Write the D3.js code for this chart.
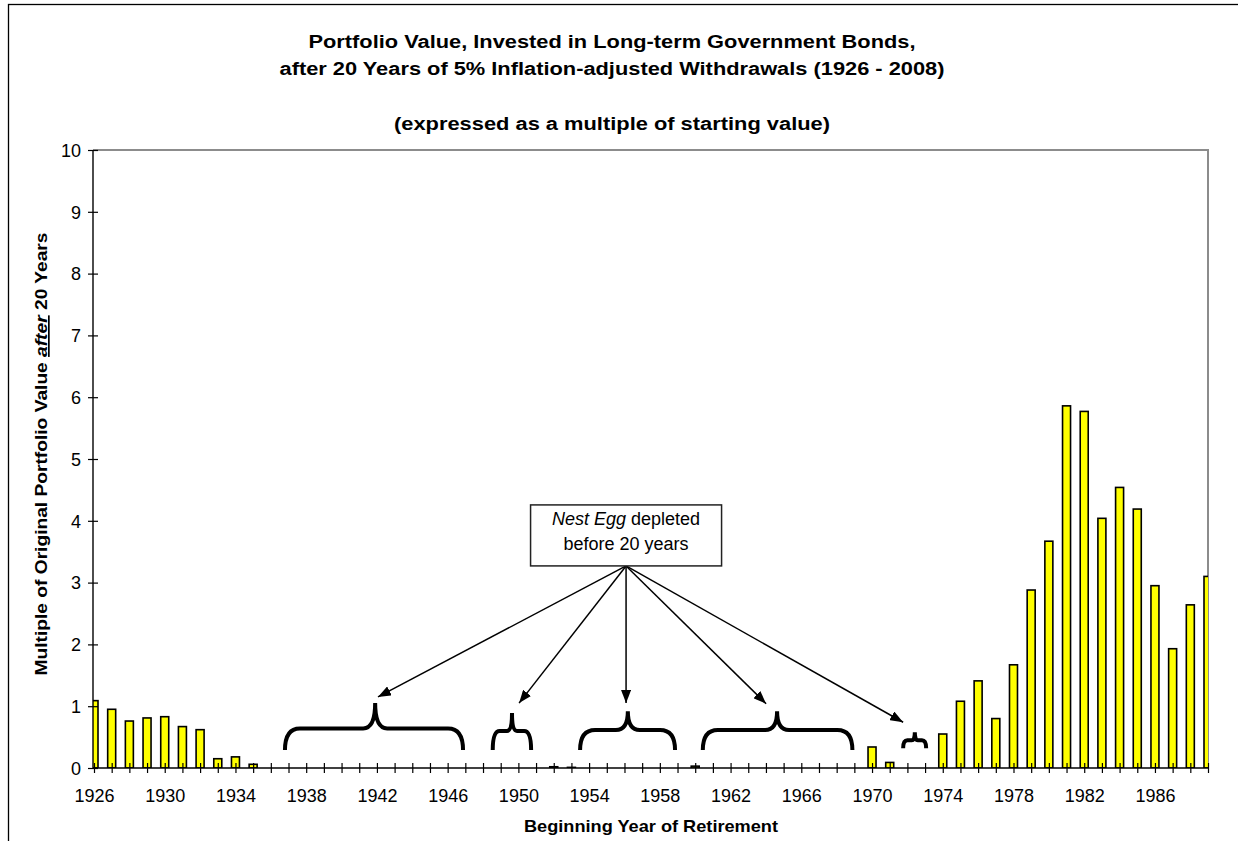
<!DOCTYPE html>
<html>
<head>
<meta charset="utf-8">
<script src="https://cdn.jsdelivr.net/npm/d3@7"></script>
<style>
body { margin: 0; background: #fff; }
text { font-family: Arial, "Liberation Sans", sans-serif; fill: #000; }
</style>
</head>
<body>
<svg id="chart" width="1238" height="841"></svg>
<script>
// beginning year of retirement (categories)
var years = d3.range(1926, 1990);

// portfolio value after 20 years, as a multiple of starting value
var values = [
	1.09, 0.95, 0.76, 0.81, 0.83, 0.67, 0.62, 0.15, 0.18, 0.06,   // 1926-1935
	0, 0, 0, 0, 0, 0, 0, 0, 0, 0, 0, 0, 0, 0, 0, 0,               // 1936-1951
	0.02, 0.01,                                                   // 1952-1953
	0, 0, 0, 0, 0, 0,                                             // 1954-1959
	0.03,                                                         // 1960
	0, 0, 0, 0, 0, 0, 0, 0, 0,                                    // 1961-1969
	0.34, 0.09, 0, 0, 0.55, 1.08, 1.41, 0.80, 1.67, 2.88,         // 1970-1979
	3.67, 5.86, 5.77, 4.04, 4.54, 4.19, 2.95, 1.93, 2.64, 3.10    // 1980-1989
];

var label_years = [1926, 1930, 1934, 1938, 1942, 1946, 1950, 1954, 1958, 1962, 1966, 1970, 1974, 1978, 1982, 1986];
var y_ticks = [0, 1, 2, 3, 4, 5, 6, 7, 8, 9, 10];

var title_lines = [
	"Portfolio Value, Invested in Long-term Government Bonds,",
	"after 20 Years of 5% Inflation-adjusted Withdrawals (1926 - 2008)",
	"(expressed as a multiple of starting value)"
];

// braces under the "depleted" periods (year / multiple units)
var brace_start = [1936.8, 1948.55, 1953.49, 1960.43, 1971.76];
var brace_end   = [1946.87, 1950.72, 1958.86, 1968.89, 1973.06];
var brace_tip   = [1941.9, 1949.64, 1956.19, 1964.63, 1972.42];
var brace_top   = [1.05, 0.89, 0.92, 0.92, 0.58];
var brace_mid   = [0.64, 0.60, 0.615, 0.615, 0.45];
var brace_foot  = [0.29, 0.29, 0.29, 0.29, 0.32];

// callout arrows
var callout_year = 1956.09, callout_value = 3.27;
var arrow_years  = [1942.06, 1950.04, 1956.09, 1964.01, 1971.76];
var arrow_values = [1.15, 1.05, 1.05, 1.04, 0.74];

function draw_chart(){
	var svg = d3.select("#chart");
	var p_left = 93, p_right = 1208, p_top = 150, p_bottom = 768;

	var x = d3.scaleLinear().domain([1926, 1989]).range([94, 1208]);
	var y = d3.scaleLinear().domain([0, 10]).range([p_bottom, p_top]);

	svg.append("rect").attr("width", 1238).attr("height", 841).attr("fill", "#fff");

	// outer chart frame (right/bottom edges run off the picture)
	svg.append("rect")
		.attr("x", 8.5).attr("y", 4.5)
		.attr("width", 1400).attr("height", 1000)
		.attr("fill", "none").attr("stroke", "#000").attr("stroke-width", 1.3);

	// title
	var title_y = [48, 75, 130];
	var title_len = [607, 665, 436];
	title_lines.forEach(function(t, i){
		svg.append("text")
			.attr("x", 612).attr("y", title_y[i])
			.attr("text-anchor", "middle")
			.attr("font-size", "18px").attr("font-weight", "bold")
			.attr("textLength", title_len[i]).attr("lengthAdjust", "spacingAndGlyphs")
			.text(t);
	});

	// plot area border (grey top and right)
	svg.append("path")
		.attr("d", "M" + p_left + "," + p_top + "H" + p_right + "V" + p_bottom)
		.attr("fill", "none").attr("stroke", "#8c8c8c").attr("stroke-width", 2);

	var defs = svg.append("defs");
	defs.append("clipPath").attr("id", "plotclip")
		.append("rect").attr("x", p_left).attr("y", p_top - 5)
		.attr("width", p_right - p_left).attr("height", p_bottom - p_top + 5);

	defs.append("marker")
		.attr("id", "arrowhead")
		.attr("markerUnits", "userSpaceOnUse")
		.attr("viewBox", "0 0 13 10")
		.attr("refX", 13).attr("refY", 5)
		.attr("markerWidth", 13).attr("markerHeight", 10)
		.attr("orient", "auto")
		.append("path").attr("d", "M0,0L13,5L0,10Z").attr("fill", "#000");

	// bars
	var bar_w = 8;
	svg.append("g")
		.attr("clip-path", "url(#plotclip)")
		.selectAll("rect")
		.data(years.map(function(d, i){ return {year: d, value: values[i]}; })
			.filter(function(d){ return d.value > 0; }))
		.enter().append("rect")
		.attr("x", function(d){ return x(d.year) - bar_w / 2; })
		.attr("y", function(d){ return y(d.value); })
		.attr("width", bar_w)
		.attr("height", function(d){ return y(0) - y(d.value); })
		.attr("fill", "#ffff00")
		.attr("stroke", "#000")
		.attr("stroke-width", 1.6);

	// x axis
	var xg = svg.append("g").attr("transform", "translate(0," + p_bottom + ")")
		.call(d3.axisBottom(x).tickValues(years).tickSize(0).tickSizeOuter(0)
			.tickFormat(function(d){ return label_years.indexOf(d) >= 0 ? d : ""; }));
	xg.select(".domain").remove();
	xg.selectAll(".tick line").attr("y1", -5).attr("y2", 5).attr("stroke", "#000").attr("stroke-width", 1.2);
	xg.selectAll(".tick text")
		.attr("y", 34).attr("dy", null).attr("fill", "#000")
		.attr("font-size", "18px").attr("font-family", "Arial, 'Liberation Sans', sans-serif");

	// y axis
	var yg = svg.append("g").attr("transform", "translate(" + p_left + ",0)")
		.call(d3.axisLeft(y).tickValues(y_ticks).tickSize(0).tickSizeOuter(0));
	yg.select(".domain").remove();
	yg.selectAll(".tick line").attr("x1", -5).attr("x2", 5).attr("stroke", "#000").attr("stroke-width", 1.2);
	yg.selectAll(".tick text")
		.attr("x", -12).attr("dy", "0.35em").attr("fill", "#000")
		.attr("font-size", "18px").attr("font-family", "Arial, 'Liberation Sans', sans-serif");

	// axis lines
	svg.append("line").attr("x1", p_left).attr("x2", p_left).attr("y1", p_top).attr("y2", p_bottom)
		.attr("stroke", "#000").attr("stroke-width", 1.4);
	svg.append("line").attr("x1", p_left).attr("x2", p_right).attr("y1", p_bottom).attr("y2", p_bottom)
		.attr("stroke", "#000").attr("stroke-width", 1.4);

	// axis titles
	svg.append("text")
		.attr("x", 651).attr("y", 832)
		.attr("text-anchor", "middle")
		.attr("font-size", "17px").attr("font-weight", "bold")
		.attr("textLength", 254).attr("lengthAdjust", "spacingAndGlyphs")
		.text("Beginning Year of Retirement");

	var ylab = svg.append("text")
		.attr("transform", "translate(47,454) rotate(-90)")
		.attr("text-anchor", "middle")
		.attr("font-size", "17px").attr("font-weight", "bold")
		.attr("textLength", 443).attr("lengthAdjust", "spacingAndGlyphs");
	ylab.append("tspan").text("Multiple of Original Portfolio Value ");
	ylab.append("tspan").attr("font-style", "italic").attr("text-decoration", "underline").text("after");
	ylab.append("tspan").text(" 20 Years");

	// braces
	svg.append("g").selectAll("path")
		.data(brace_start.map(function(d, i){ return i; }))
		.enter().append("path")
		.attr("d", function(i){
			return brace_path(x(brace_start[i]), x(brace_end[i]), x(brace_tip[i]),
				y(brace_top[i]), y(brace_mid[i]), y(brace_foot[i]));
		})
		.attr("fill", "none").attr("stroke", "#000").attr("stroke-width", 4);

	// callout arrows
	var cx = x(callout_year), cy = y(callout_value);
	svg.append("g").selectAll("line")
		.data(arrow_years.map(function(d, i){ return i; }))
		.enter().append("line")
		.attr("x1", cx).attr("y1", cy)
		.attr("x2", function(i){ return x(arrow_years[i]); })
		.attr("y2", function(i){ return y(arrow_values[i]); })
		.attr("stroke", "#000").attr("stroke-width", 1.5)
		.attr("marker-end", "url(#arrowhead)");

	// callout box
	var box_w = 191, box_h = 61;
	svg.append("rect")
		.attr("x", cx - box_w / 2).attr("y", cy - box_h)
		.attr("width", box_w).attr("height", box_h)
		.attr("fill", "#fff").attr("stroke", "#222").attr("stroke-width", 1.5);

	var l1 = svg.append("text")
		.attr("x", cx).attr("y", cy - 41)
		.attr("text-anchor", "middle").attr("font-size", "18px");
	l1.append("tspan").attr("font-style", "italic").text("Nest Egg");
	l1.append("tspan").text(" depleted");
	svg.append("text")
		.attr("x", cx).attr("y", cy - 16)
		.attr("text-anchor", "middle").attr("font-size", "18px")
		.text("before 20 years");
}

function brace_path(x0, x1, xt, yt, ym, yf){
	var w = x1 - x0;
	var r = Math.min(15, w * 0.18);
	var rt = Math.min(12, w * 0.13);
	return "M" + x0 + "," + yf +
		"Q" + x0 + "," + ym + " " + (x0 + r) + "," + ym +
		"L" + (xt - rt) + "," + ym +
		"Q" + xt + "," + ym + " " + xt + "," + yt +
		"Q" + xt + "," + ym + " " + (xt + rt) + "," + ym +
		"L" + (x1 - r) + "," + ym +
		"Q" + x1 + "," + ym + " " + x1 + "," + yf;
}

draw_chart();
</script>
</body>
</html>
